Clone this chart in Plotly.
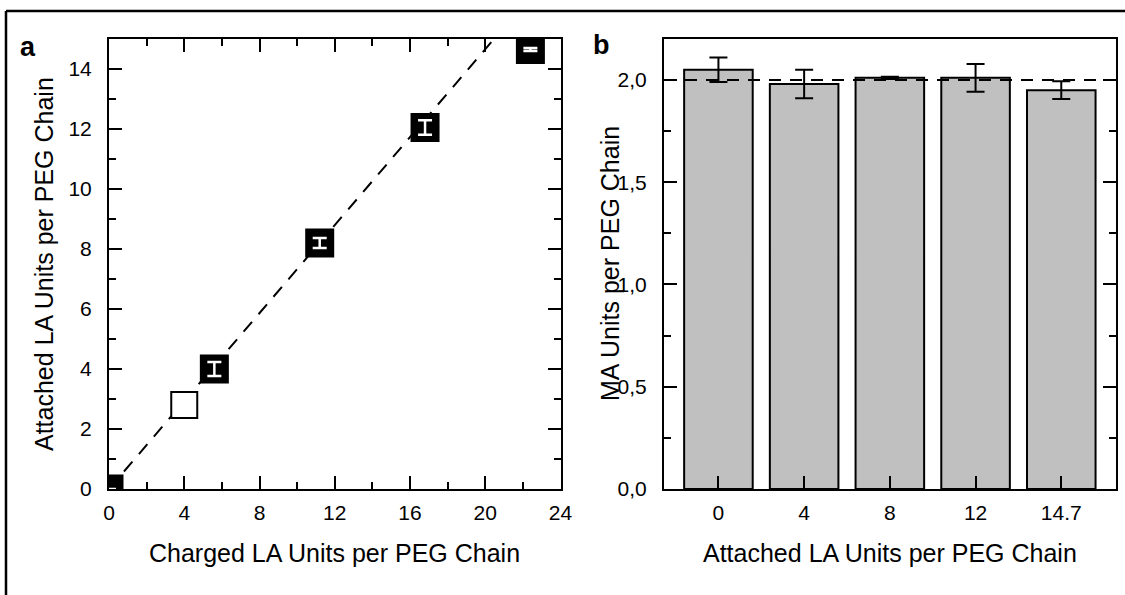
import plotly.graph_objects as go

# ---------------- data ----------------
# Panel a: attached vs charged LA units
charged_la = [0.0, 5.6, 11.2, 16.8, 22.4]
attached_la = [0.0, 4.0, 8.2, 12.05, 14.65]
attached_err = [0.0, 0.23, 0.17, 0.24, 0.05]
open_charged = [4.0]
open_attached = [2.8]
fit_x = [0.0, 24.0]
fit_slope = 0.733

# Panel b: MA units per PEG chain
categories = ["0", "4", "8", "12", "14.7"]
ma_units = [2.05, 1.98, 2.01, 2.01, 1.95]
ma_err = [0.06, 0.07, 0.005, 0.068, 0.043]
ma_reference = 2.0

# ---------------- layout helpers ----------------
W, H = 1125, 595
FONT = "Liberation Sans, Arial, sans-serif"


def px_x(v):
    return v / W


def px_y(v):
    return 1 - v / H


fig = go.Figure()

# dashed guide line in panel a
fig.add_trace(go.Scatter(
    x=fit_x, y=[fit_slope * v for v in fit_x], mode="lines",
    line=dict(color="black", width=2, dash="13px,10px"),
    xaxis="x", yaxis="y", showlegend=False, hoverinfo="skip"))

# open square
fig.add_trace(go.Scatter(
    x=open_charged, y=open_attached, mode="markers",
    marker=dict(symbol="square", size=26, color="white",
                line=dict(color="black", width=2)),
    xaxis="x", yaxis="y", showlegend=False))

# filled squares
fig.add_trace(go.Scatter(
    x=charged_la, y=attached_la, mode="markers",
    marker=dict(symbol="square", size=27, color="black",
                line=dict(color="black", width=2)),
    xaxis="x", yaxis="y", showlegend=False))

# white error bars drawn on top of the filled squares
fig.add_trace(go.Scatter(
    x=charged_la, y=attached_la, mode="markers",
    marker=dict(size=1, color="rgba(0,0,0,0)"),
    error_y=dict(type="data", array=attached_err, color="white",
                 thickness=2.5, width=7),
    xaxis="x", yaxis="y", showlegend=False, hoverinfo="skip"))

# panel b bars
fig.add_trace(go.Bar(
    x=categories, y=ma_units, width=0.8,
    marker=dict(color="#c0c0c0", line=dict(color="black", width=2)),
    error_y=dict(type="data", array=ma_err, color="black",
                 thickness=2, width=9),
    xaxis="x2", yaxis="y2", showlegend=False))

tickfont = dict(family=FONT, size=21, color="black")
common = dict(showgrid=False, zeroline=False, showline=True, linewidth=2,
              linecolor="black", ticks="inside", ticklen=13, tickwidth=2,
              tickcolor="black", tickfont=tickfont, automargin=False)

fig.update_layout(
    template="none",
    width=W, height=H, autosize=False,
    margin=dict(l=0, r=0, t=0, b=0, pad=0),
    paper_bgcolor="white", plot_bgcolor="white",
    separators=",.",
    showlegend=False,
    xaxis=dict(domain=[px_x(109), px_x(560.5)], range=[0, 24], tick0=0, dtick=4,
               mirror="ticks", anchor="y", ticklabelstandoff=4,
               minor=dict(ticks="inside", ticklen=7, tickwidth=2,
                          tickcolor="black", dtick=2, showgrid=False),
               **common),
    yaxis=dict(domain=[px_y(489), px_y(39)], range=[0, 15], tick0=0, dtick=2,
               mirror="ticks", anchor="x", ticklabelstandoff=11,
               minor=dict(ticks="inside", ticklen=7, tickwidth=2,
                          tickcolor="black", dtick=1, showgrid=False),
               **common),
    xaxis2=dict(domain=[px_x(664), px_x(1115.7)], type="category",
                range=[-0.635, 4.635], mirror=True, anchor="y2",
                ticklabelstandoff=4, **common),
    yaxis2=dict(domain=[px_y(489), px_y(39)], range=[0, 2.2], tick0=0,
                dtick=0.5, tickformat=".1f", mirror="ticks", anchor="x2",
                ticklabelstandoff=11,
                minor=dict(ticks="inside", ticklen=7, tickwidth=2,
                           tickcolor="black", dtick=0.25, showgrid=False),
                **common),
)

# reference line at MA = 2.0 in panel b
fig.add_shape(type="line", xref="x2 domain", yref="y2", x0=0, x1=1,
              y0=ma_reference, y1=ma_reference,
              line=dict(color="black", width=2, dash="12px,9px"), layer="above")

# outer frame (top and left edges)
fig.add_shape(type="line", xref="paper", yref="paper", x0=px_x(6), x1=1.0,
              y0=px_y(11), y1=px_y(11), line=dict(color="black", width=2.5))
fig.add_shape(type="line", xref="paper", yref="paper", x0=px_x(6), x1=px_x(6),
              y0=0, y1=px_y(11), line=dict(color="black", width=2.5))

title_font = dict(family=FONT, size=25, color="black")
annots = [
    dict(text="<b>a</b>", x=px_x(28), y=px_y(47), font=dict(family=FONT, size=27, color="black")),
    dict(text="<b>b</b>", x=px_x(601), y=px_y(45), font=dict(family=FONT, size=27, color="black")),
    dict(text="Charged LA Units per PEG Chain", x=px_x(335), y=px_y(553), font=title_font),
    dict(text="Attached LA Units per PEG Chain", x=px_x(44), y=px_y(264),
         textangle=-90, font=title_font),
    dict(text="Attached LA Units per PEG Chain", x=px_x(890), y=px_y(553), font=title_font),
    dict(text="MA Units per PEG Chain", x=px_x(610), y=px_y(264),
         textangle=-90, font=title_font),
]
for a in annots:
    fig.add_annotation(xref="paper", yref="paper", showarrow=False,
                       xanchor="center", yanchor="middle", **a)

fig.write_html("out.html", post_script="document.body.style.margin='0px';")
